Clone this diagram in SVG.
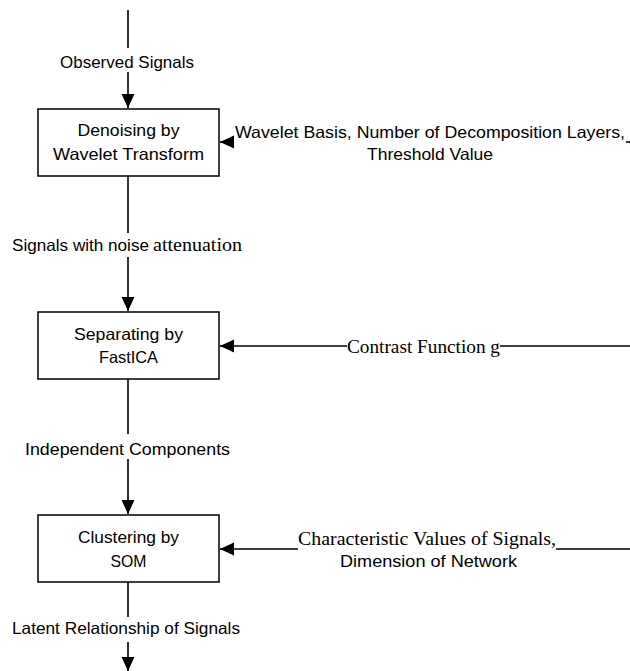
<svg xmlns="http://www.w3.org/2000/svg" width="630" height="671" viewBox="0 0 630 671">
<style>
.box{fill:#fff;stroke:#000;stroke-width:1.5}
.ln{fill:none;stroke:#000;stroke-width:1.6}
.s{font-family:"Liberation Sans",Arial,sans-serif;font-size:16.5px;fill:#000}
.r{font-family:"Liberation Serif","Times New Roman",serif;font-size:19px;fill:#000}
.m{text-anchor:middle}
</style>
<defs>
<marker id="ah" markerUnits="userSpaceOnUse" markerWidth="14" markerHeight="14" viewBox="0 0 13 12" refX="13" refY="6" orient="auto">
<path d="M0,0 L13,6 L0,12 Z" fill="#000"/>
</marker>
</defs>
<g id="connectors">
<path class="ln" d="M128 10 V48"/>
<path class="ln" d="M128 72 V108" marker-end="url(#ah)"/>
<path class="ln" d="M128 176 V233"/>
<path class="ln" d="M128 257 V311" marker-end="url(#ah)"/>
<path class="ln" d="M128 379 V434"/>
<path class="ln" d="M128 459 V514" marker-end="url(#ah)"/>
<path class="ln" d="M128 582 V617"/>
<path class="ln" d="M128 642 V671" marker-end="url(#ah)"/>
<path class="ln" d="M626 142 H630"/>
<path class="ln" d="M234 142 H220" marker-end="url(#ah)"/>
<path class="ln" d="M630 346 H500"/>
<path class="ln" d="M347 346 H220" marker-end="url(#ah)"/>
<path class="ln" d="M630 549 H556"/>
<path class="ln" d="M298 549 H220" marker-end="url(#ah)"/>
</g>
<g id="node-denoise">
<rect class="box" x="38" y="109" width="181" height="67"/>
<text class="s m" x="128.5" y="136" textLength="102" lengthAdjust="spacingAndGlyphs">Denoising by</text>
<text class="s m" x="128.5" y="160" textLength="151" lengthAdjust="spacingAndGlyphs">Wavelet Transform</text>
</g>
<g id="node-separate">
<rect class="box" x="38" y="312" width="181" height="67"/>
<text class="s m" x="128.5" y="340" textLength="109" lengthAdjust="spacingAndGlyphs">Separating by</text>
<text class="s m" x="128.5" y="363" textLength="59" lengthAdjust="spacingAndGlyphs">FastICA</text>
</g>
<g id="node-cluster">
<rect class="box" x="38" y="515" width="181" height="67"/>
<text class="s m" x="128.5" y="543" textLength="101" lengthAdjust="spacingAndGlyphs">Clustering by</text>
<text class="s m" x="128.5" y="567" textLength="36" lengthAdjust="spacingAndGlyphs">SOM</text>
</g>
<g id="labels">
<text class="s" x="60" y="68" textLength="134" lengthAdjust="spacingAndGlyphs">Observed Signals</text>
<text class="s" x="235" y="138" textLength="390" lengthAdjust="spacingAndGlyphs">Wavelet Basis, Number of Decomposition Layers,</text>
<text class="s" x="367" y="160" textLength="126" lengthAdjust="spacingAndGlyphs">Threshold Value</text>
<text class="s" x="12" y="251" textLength="137" lengthAdjust="spacingAndGlyphs">Signals with noise</text>
<text class="r" x="153" y="251" textLength="89" lengthAdjust="spacingAndGlyphs">attenuation</text>
<text class="r" x="347" y="353" textLength="153" lengthAdjust="spacingAndGlyphs">Contrast Function g</text>
<text class="s" x="25" y="455" textLength="205" lengthAdjust="spacingAndGlyphs">Independent Components</text>
<text class="r" x="298" y="545" textLength="258" lengthAdjust="spacingAndGlyphs">Characteristic Values of Signals,</text>
<text class="s" x="340" y="567" textLength="177" lengthAdjust="spacingAndGlyphs">Dimension of Network</text>
<text class="s" x="12" y="634" textLength="228" lengthAdjust="spacingAndGlyphs">Latent Relationship of Signals</text>
</g>
</svg>
